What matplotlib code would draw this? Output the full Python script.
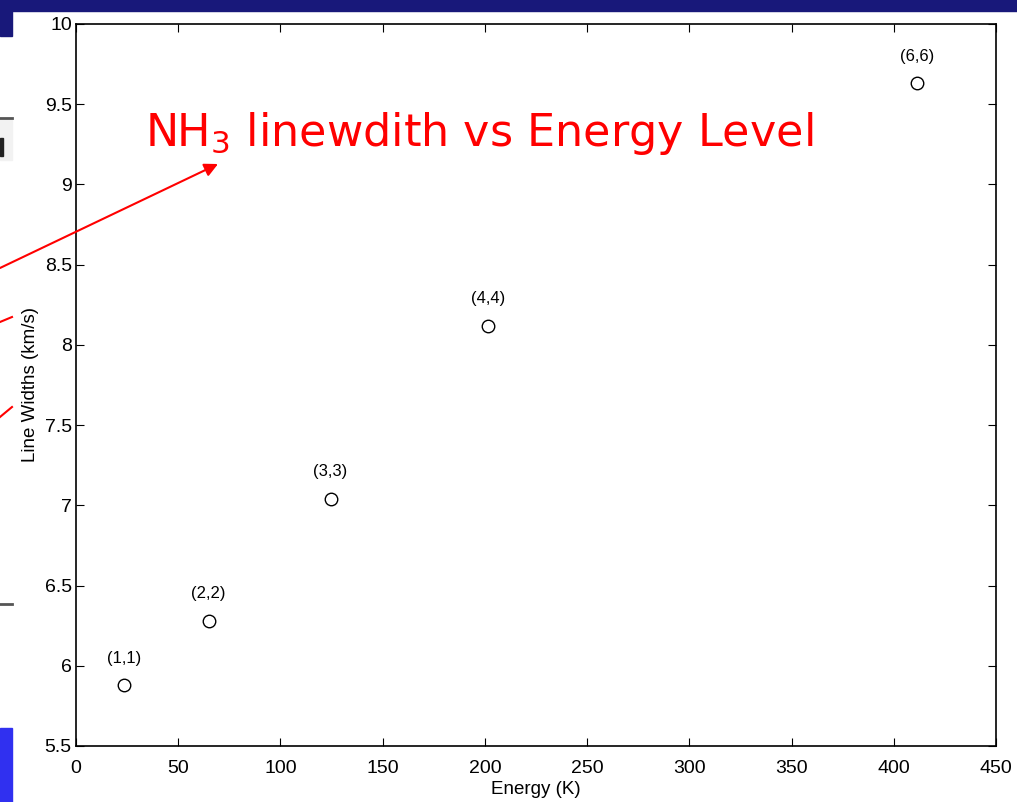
import matplotlib
matplotlib.use("Agg")
import matplotlib.pyplot as plt
from matplotlib.patches import Rectangle
from matplotlib.lines import Line2D

# NH3 inversion lines: upper level energy vs measured line width
levels = ["(1,1)", "(2,2)", "(3,3)", "(4,4)", "(6,6)"]
energy = [23.4, 64.9, 124.5, 201.7, 411.4]
widths = [5.88, 6.28, 7.04, 8.12, 9.63]

W, H = 1017, 802
fig = plt.figure(figsize=(W / 100, H / 100), dpi=100)
plt.rcParams["font.family"] = ["Liberation Sans", "DejaVu Sans"]

ax = fig.add_axes([76 / W, 1 - 746 / H, 920 / W, 722 / H])
ax.plot(energy, widths, "o", mfc="white", mec="black", ms=9, mew=1.0)
for lab, x, y in zip(levels, energy, widths):
    ax.annotate(lab, (x, y), xytext=(0, 14), textcoords="offset points",
                ha="center", va="bottom", fontsize=12)

ax.set_xlim(0, 450)
ax.set_ylim(5.5, 10)
ax.set_xticks(range(0, 451, 50))
ax.set_yticks([5.5 + 0.5 * i for i in range(10)])
ax.set_yticklabels(["5.5", "6", "6.5", "7", "7.5", "8", "8.5", "9", "9.5", "10"])
ax.tick_params(direction="in", length=6, width=0.8, top=True, right=True,
               labelsize=14, pad=3)
ax.tick_params(axis="x", pad=10)
for s in ax.spines.values():
    s.set_linewidth(1.2)
ax.set_xlabel("Energy (K)", fontsize=13.5, labelpad=3)
ax.set_ylabel("Line Widths (km/s)", fontsize=13.5, labelpad=4)

# slide decorations around the plot
navy = "#18187a"
fig.patches.append(Rectangle((0, 1 - 11 / H), 1, 11 / H, transform=fig.transFigure,
                             color=navy, zorder=5))
fig.patches.append(Rectangle((0, 1 - 36 / H), 12 / W, 36 / H, transform=fig.transFigure,
                             color=navy, zorder=5))
fig.patches.append(Rectangle((0, 0), 12 / W, 74 / H, transform=fig.transFigure,
                             color="#3030f0", zorder=5))
fig.patches.append(Rectangle((0, 1 - 160 / H), 12 / W, 40 / H, transform=fig.transFigure,
                             color="#f2f2f2", zorder=4))
fig.patches.append(Rectangle((0, 1 - 156 / H), 3 / W, 18 / H, transform=fig.transFigure,
                             color="#222222", zorder=5))


def fig_line(x0, y0, x1, y1, **kw):
    fig.lines.append(Line2D([x0 / W, x1 / W], [1 - y0 / H, 1 - y1 / H],
                            transform=fig.transFigure, **kw))


fig_line(0, 118, 12, 118, color="#555555", lw=2, zorder=5)
fig_line(0, 604, 12, 604, color="#555555", lw=2, zorder=5)
fig_line(0, 322, 12, 317, color="red", lw=1.5, zorder=5)
fig_line(0, 417, 12, 407, color="red", lw=1.5, zorder=5)

fig.text(145 / W, 1 - 146 / H, "NH$_3$ linewdith vs Energy Level", color="red",
         fontsize=32, family="DejaVu Sans", ha="left", va="baseline")
fig.add_artist(matplotlib.patches.FancyArrowPatch(
    (0, 1 - 268 / H), (218 / W, 1 - 164 / H), transform=fig.transFigure,
    arrowstyle="-|>,head_length=8,head_width=4", color="red", lw=1.5,
    shrinkA=0, shrinkB=0, zorder=6))

fig.savefig("out.png", dpi=100)
